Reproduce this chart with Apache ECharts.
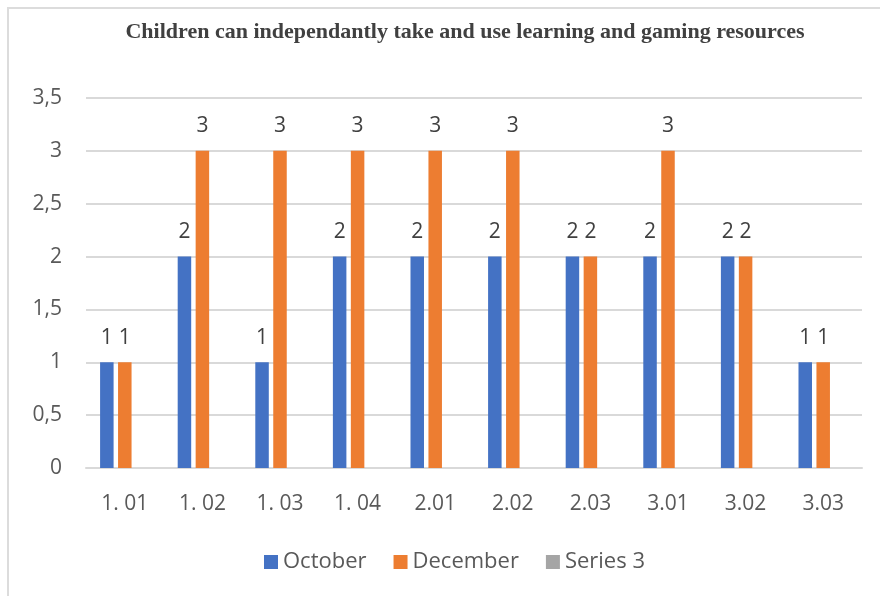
<!DOCTYPE html>
<html>
<head>
<meta charset="utf-8">
<script src="https://cdn.jsdelivr.net/npm/echarts@6/dist/echarts.min.js"></script>
<style>
  html, body { margin: 0; padding: 0; background: #fff; }
  #wrap { position: relative; width: 880px; height: 596px; overflow: hidden; }
  #frame {
    position: absolute; left: 7px; top: 7px; width: 900px; height: 620px;
    border-top: 2px solid #dcdcdc; border-left: 2px solid #dcdcdc;
  }
  #chart { position: absolute; left: 0; top: 0; width: 880px; height: 596px; }
</style>
</head>
<body>
<div id="wrap">
  <div id="frame"></div>
  <div id="chart"></div>
</div>
<script>
var categories = ['1. 01', '1. 02', '1. 03', '1. 04', '2.01', '2.02', '2.03', '3.01', '3.02', '3.03'];
var october = [1, 2, 1, 2, 2, 2, 2, 2, 2, 1];
var december = [1, 3, 3, 3, 3, 3, 2, 3, 2, 1];
var series3 = [null, null, null, null, null, null, null, null, null, null];

var chart = echarts.init(document.getElementById('chart'), null, { renderer: 'canvas' });

var labelStyle = {
  show: true,
  position: 'top',
  distance: 14,
  color: '#404040',
  fontFamily: 'Open Sans',
  fontSize: 21
};

var option = {
  animation: false,
  color: ['#4472C4', '#ED7D31', '#A5A5A5'],
  title: {
    text: 'Children can independantly take and use learning and gaming resources',
    left: 460,
    textAlign: 'center',
    top: 16,
    textStyle: {
      fontFamily: 'Liberation Serif',
      fontWeight: 'bold',
      fontSize: 22,
      color: '#404040'
    }
  },
  legend: {
    bottom: 18,
    left: 259,
    itemWidth: 14,
    itemHeight: 14,
    itemGap: 27,
    icon: 'rect',
    textStyle: { fontFamily: 'Open Sans', fontSize: 22, color: '#595959' },
    data: ['October', 'December', 'Series 3']
  },
  grid: { left: 86, right: 18, top: 98, bottom: 128 },
  xAxis: {
    type: 'category',
    data: categories,
    axisTick: { show: false },
    axisLine: { lineStyle: { color: '#d9d9d9', width: 2 } },
    axisLabel: { color: '#595959', fontFamily: 'Open Sans', fontSize: 21, margin: 26 }
  },
  yAxis: {
    type: 'value',
    min: 0,
    max: 3.5,
    interval: 0.5,
    axisLine: { show: false },
    axisTick: { show: false },
    splitLine: { lineStyle: { color: '#d9d9d9', width: 2 } },
    axisLabel: {
      color: '#595959', fontFamily: 'Open Sans', fontSize: 21, margin: 24,
      formatter: function (v) { return String(v).replace('.', ','); }
    }
  },
  series: [
    { name: 'October', type: 'bar', data: october, barWidth: '17.4%', barGap: '33%', label: labelStyle },
    { name: 'December', type: 'bar', data: december, barWidth: '17.4%', barGap: '33%', label: labelStyle },
    { name: 'Series 3', type: 'bar', data: series3, barWidth: '17.4%', barGap: '33%', label: labelStyle }
  ]
};

chart.setOption(option);
</script>
</body>
</html>
